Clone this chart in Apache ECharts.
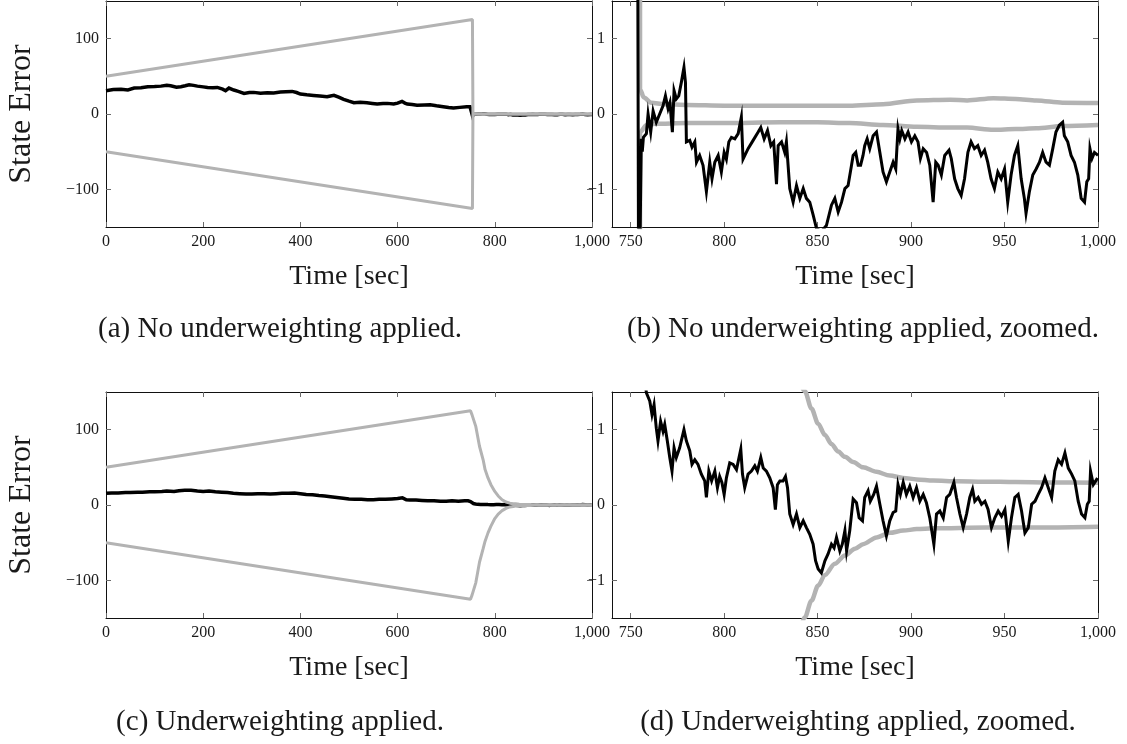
<!DOCTYPE html>
<html>
<head>
<meta charset="utf-8">
<script src="https://cdn.jsdelivr.net/npm/echarts@6/dist/echarts.min.js"></script>
<style>
html,body{margin:0;padding:0;background:#fff;}
#chart{width:1127px;height:744px;}
</style>
</head>
<body>
<div id="chart"></div>
<script>
// ---------- tick labels / ranges ----------
const xWideTicks = [0, 200, 400, 600, 800, 1000];
const xZoomTicks = [750, 800, 850, 900, 950, 1000];
const yWideTicks = [-100, 0, 100];
const yZoomTicks = [-1, 0, 1];
const xWideRange = [0, 1000];
const xZoomRange = [740, 1000];
const yWideRange = [-150, 150];
const yZoomRange = [-1.5, 1.5];

const yTitle = 'State Error';
const xTitle = 'Time [sec]';
const captions = ['(a) No underweighting applied.', '(b) No underweighting applied, zoomed.',
                  '(c) Underweighting applied.', '(d) Underweighting applied, zoomed.'];

// ---------- No underweighting: state error [time, value] ----------
const errNoUW = [[0,31],[3,31.8],[15,32.5],[31,33],[45,32],[58,34.4],[72,35],[86,36.2],[100,36.5],[113,37],[125,38],[133,37.5],[145,35.5],[154,36.2],[163,37.5],[171,38.9],[180,38],[188,37],[200,36],[209,35.3],[220,35],[229,35.3],[240,33],[246,30.9],[253,34.4],[263,31.8],[272,30],[284,27.4],[295,28.5],[304,28.7],[318,27.5],[332,28.3],[345,28],[359,29.1],[370,29.5],[383,30],[392,28.5],[400,26.5],[413,25.5],[427,24.7],[440,24],[455,23],[462,24],[469,24.7],[480,22],[489,19.4],[500,17],[510,15],[523,15.5],[537,15],[548,14],[558,13.2],[570,14],[579,14.1],[592,13.2],[600,14.5],[609,16.8],[615,14.5],[620,13.2],[630,12.5],[640,11.5],[655,12],[667,12.4],[680,11],[694,9.7],[705,8.5],[715,7.9],[728,8.8],[742,9.7],[749,9.7],[753,9.5],[754.3,-3],
[755.7,-0.33],[756.2,-0.5],[756.8,-0.31],[758.4,-0.26],[759.3,0],[760.7,-0.24],[762,0.04],[763.7,-0.11],[765.5,0],[767.3,0.11],[768.6,0.24],[770,0.07],[771,0.15],[772.3,-0.24],[773.2,0.31],[774.4,0.2],[775.7,0.24],[777.1,0.42],[778.5,0.62],[779.3,0.42],[779.8,-0.37],[781.6,-0.35],[782.8,-0.44],[784.3,-0.37],[785.2,-0.64],[786.9,-0.55],[788.7,-0.68],[790.5,-1.03],[792.3,-0.64],[793.5,-0.86],[795,-0.64],[796.8,-0.55],[798.5,-0.77],[800,-0.51],[801.2,-0.6],[802.5,-0.37],[803.9,-0.31],[805.7,-0.33],[807.5,-0.26],[809.2,-0.04],[810.1,-0.6],[812.8,-0.46],[815.5,-0.35],[818.2,-0.24],[819.6,-0.18],[821.4,-0.33],[823.2,-0.22],[825,-0.42],[826.5,-0.37],[828,-0.93],[828.9,-0.42],[830.7,-0.37],[832.4,-0.51],[833.3,-0.37],[835.1,-0.99],[836.9,-1.17],[838.7,-0.95],[840.5,-1.12],[842.3,-0.99],[844,-1.12],[845.8,-1.17],[847.6,-1.34],[849.4,-1.52],[852,-1.56],[854.7,-1.48],[857.4,-1.21],[859.2,-1.12],[861,-1.3],[862.8,-1.17],[864.6,-0.99],[866.3,-0.95],[868,-0.7],[869,-0.55],[870.4,-0.51],[871.7,-0.68],[873,-0.68],[874.3,-0.55],[875.2,-0.42],[876.5,-0.33],[877.9,-0.46],[879.7,-0.29],[881.5,-0.24],[883.3,-0.51],[885,-0.77],[886.8,-0.9],[888.6,-0.77],[890.4,-0.64],[891.8,-0.73],[893,-0.2],[894,-0.33],[895,-0.22],[896.7,-0.33],[898.4,-0.24],[900.2,-0.37],[902,-0.29],[903.7,-0.37],[905,-0.59],[906.5,-0.46],[908.3,-0.51],[910,-0.68],[911.8,-1.17],[913.2,-0.64],[914.5,-0.68],[916.2,-0.81],[918,-0.55],[920.3,-0.48],[921.5,-0.59],[923.3,-0.86],[925,-0.99],[926.8,-1.08],[928.6,-0.86],[930.4,-0.51],[932.1,-0.37],[933.9,-0.46],[935.7,-0.42],[937.5,-0.55],[939.3,-0.48],[941,-0.64],[942.8,-0.86],[944.6,-0.99],[946.4,-0.77],[948.2,-0.86],[950,-0.73],[951.7,-1.17],[953.5,-0.81],[955.3,-0.55],[957.1,-0.42],[958.9,-0.86],[960.6,-1.12],[961.5,-1.32],[963.3,-1.03],[965.1,-0.81],[966.9,-0.73],[968.7,-0.64],[970.4,-0.51],[972.2,-0.64],[974,-0.68],[975.8,-0.46],[977.5,-0.24],[979.3,-0.15],[981.1,-0.11],[982,-0.29],[983.8,-0.37],[985.6,-0.55],[987.4,-0.64],[989.2,-0.81],[991,-1.12],[992.8,-1.17],[994,-0.9],[995,-0.86],[995.7,-0.46],[996.8,-0.59],[998.1,-0.51],[1000,-0.55]];

// ---------- No underweighting: bounds ----------
const upperNoUW = [[0,50],[754,125.4],[755,0.33],[757,0.22],[761,0.15],[768,0.13],[780,0.12],[800,0.11],[850,0.11],[867,0.11],[885,0.13],[903,0.18],[921,0.19],[930,0.18],[944,0.21],[956,0.2],[967,0.18],[981,0.15],[1000,0.145]];
const lowerNoUW = [[0,-50],[754,-125.4],[755,-0.24],[758.4,-0.15],[763,-0.13],[780,-0.12],[800,-0.12],[830,-0.11],[850,-0.11],[867,-0.12],[885,-0.145],[903,-0.17],[921,-0.18],[930,-0.18],[944,-0.21],[956,-0.2],[967,-0.19],[981,-0.16],[1000,-0.145]];

// ---------- Underweighting: state error ----------
const errUW = [[0,15.5],[12,16],[25,16],[40,16.5],[50,16.5],[65,17],[75,17],[90,17.5],[100,17.5],[115,18],[125,18.5],[140,18],[150,19],[162,19.5],[175,19.5],[188,18.5],[200,18],[212,18.5],[225,17.5],[238,17],[250,16.5],[262,15.5],[275,15],[288,14.5],[300,14.5],[312,15],[325,15],[338,14.5],[350,15],[362,15.5],[375,15.5],[388,16],[400,15],[412,14],[425,13.5],[438,12.5],[450,12],[462,11],[475,10],[488,9],[500,8],[512,7.5],[525,7.5],[538,7],[550,7],[562,7.5],[575,7.5],[588,8],[600,8.5],[610,9.5],[618,7],[625,6.5],[638,6.5],[650,6],[662,5.5],[675,5.5],[688,5],[700,5],[712,5.5],[725,5],[738,5.5],[745,5.5],[750,4.5],[753,3],[756,2],
[758.4,1.49],[760.2,1.38],[761.4,1.2],[762.5,1.33],[763.7,1.02],[764.6,0.85],[766,1.11],[767.3,0.98],[768.2,1.07],[769.6,0.85],[770.9,0.63],[772.1,0.45],[773.2,0.76],[774.4,0.63],[776.2,0.76],[778.5,1.0],[779.8,0.85],[781.6,0.72],[782.8,0.54],[784.3,0.6],[786,0.54],[787.8,0.41],[789.6,0.32],[790.5,0.1],[791.8,0.45],[793.3,0.32],[795,0.45],[796.4,0.23],[797.6,0.38],[798.8,0.3],[800,0.14],[801.2,0.36],[803,0.56],[804.8,0.54],[806.6,0.47],[808.9,0.74],[809.8,0.41],[811,0.23],[812.8,0.41],[814.6,0.45],[816.4,0.52],[817.8,0.45],[819.6,0.63],[820.9,0.49],[822.6,0.45],[824.4,0.36],[826.2,0.23],[827.4,-0.06],[828.5,0.27],[829.8,0.32],[831.5,0.32],[832.8,0.38],[833.9,0.23],[835.1,-0.12],[836.9,-0.26],[838.7,-0.12],[840.5,-0.3],[842.3,-0.21],[844,-0.3],[845.8,-0.39],[847.6,-0.52],[848.9,-0.74],[850.3,-0.85],[852,-0.9],[853.9,-0.74],[855.6,-0.65],[857.4,-0.52],[858.8,-0.57],[860.1,-0.43],[861.9,-0.61],[863.2,-0.52],[864.6,-0.34],[865.5,-0.61],[867.2,-0.34],[869,0.08],[870.8,0.03],[872.2,-0.17],[874,-0.21],[875.2,0.1],[877,0.19],[878.2,0.05],[880,0.14],[881.5,0.25],[883.3,0.01],[885,-0.21],[886.8,-0.41],[888.6,-0.21],[890.4,-0.1],[891.8,-0.08],[893,0.27],[894.3,0.14],[895.8,0.3],[897.5,0.14],[899.3,0.25],[901.1,0.1],[902.9,0.23],[904.7,0.05],[906.5,0.14],[908.2,0.03],[910,-0.17],[912.2,-0.52],[913.6,-0.12],[915.4,-0.08],[917.2,-0.17],[919,0.1],[920.7,0.14],[922.9,0.3],[924.3,0.1],[926.1,-0.12],[927.9,-0.3],[929.7,-0.12],[931.4,0.1],[932.9,0.21],[934.1,0.05],[935.9,0.1],[937.7,0.01],[939.5,0.05],[941.2,-0.06],[943,-0.3],[944.8,-0.17],[946.6,-0.08],[948.4,-0.15],[950.2,-0.06],[952,-0.48],[953.7,-0.17],[955.5,0.1],[957.3,0.14],[959.1,-0.08],[960.9,-0.37],[962.7,-0.3],[964.5,0.01],[966.3,0.05],[968,0.14],[969.8,0.23],[971.6,0.36],[973.4,0.23],[975.2,0.1],[976.9,0.45],[978.7,0.6],[980.5,0.54],[982.3,0.69],[984.1,0.49],[985.9,0.41],[987.6,0.32],[989.4,0.05],[991.2,-0.12],[993,-0.17],[994.3,0.01],[995.3,0.05],[996,0.45],[997.5,0.27],[999.3,0.34],[1000,0.33]];

// ---------- Underweighting: bounds ----------
const upperUW = [[0,50],[750,125],[753,120],[761,104],[768.5,78],[776,60],[780,47],[786,36],[792,27],[800,18],[807,12],[815,7],[823,4],[831,2.4],[838,1.8],[843.2,1.51],[846.7,1.28],[850.3,1.08],[853.9,0.93],[857.4,0.81],[861,0.71],[864.6,0.64],[869,0.57],[874.3,0.5],[881.5,0.44],[888.6,0.39],[895.8,0.36],[903,0.34],[911.8,0.325],[925,0.315],[938.6,0.31],[956,0.305],[974.3,0.3],[1000,0.295]];
const lowerUW = [[0,-50],[750,-125],[753,-120],[761,-103],[768.5,-76],[776,-58],[780,-48],[786,-37],[792,-28],[800,-18],[807,-12],[815,-7.5],[823,-4.5],[831,-2.6],[838,-1.9],[843.2,-1.49],[846.7,-1.27],[850.3,-1.07],[853.9,-0.93],[859.2,-0.78],[864.6,-0.67],[870,-0.58],[874.3,-0.52],[881.5,-0.43],[888.6,-0.37],[895.8,-0.34],[903,-0.32],[911.8,-0.31],[940,-0.3],[970,-0.3],[1000,-0.29]];

// ---------- build chart ----------
const FONT = 'Liberation Serif';
const TXT = '#1a1a1a';
const GRAY = '#b3b3b3';

const panels = [
  {left:106, top:1,   xr:xWideRange, yr:yWideRange, xt:xWideTicks, yt:yWideTicks, err:errNoUW, up:upperNoUW, lo:lowerNoUW, wide:true,  yName:yTitle},
  {left:612, top:1,   xr:xZoomRange, yr:yZoomRange, xt:xZoomTicks, yt:yZoomTicks, err:errNoUW, up:upperNoUW, lo:lowerNoUW, wide:false, yName:''},
  {left:106, top:392, xr:xWideRange, yr:yWideRange, xt:xWideTicks, yt:yWideTicks, err:errUW,   up:upperUW,   lo:lowerUW,   wide:true,  yName:yTitle},
  {left:612, top:392, xr:xZoomRange, yr:yZoomRange, xt:xZoomTicks, yt:yZoomTicks, err:errUW,   up:upperUW,   lo:lowerUW,   wide:false, yName:''}
];

function fmt(v){
  const s = Math.abs(v) >= 1000 ? Number(v).toLocaleString('en-US') : String(v);
  return s.replace('-', '\u2212');
}

const grid = [], xAxis = [], yAxis = [], series = [];
panels.forEach((p, k) => {
  grid.push({left:p.left, top:p.top, width:486, height:226, containLabel:false});
  const tick = (vals) => ({show:true, inside:true, length:5, customValues:vals, lineStyle:{color:'#6a6a6a', width:1}});
  const line = {show:true, onZero:false, lineStyle:{color:'#111', width:1}};
  const lab = (vals) => ({show:true, customValues:vals, formatter:fmt, color:TXT, fontFamily:FONT, fontSize:16, margin:7});
  xAxis.push({type:'value', gridIndex:k, position:'bottom', min:p.xr[0], max:p.xr[1],
    axisLine:line, axisTick:tick(p.xt), axisLabel:lab(p.xt), splitLine:{show:false},
    name:xTitle, nameLocation:'middle', nameGap:36,
    nameTextStyle:{fontFamily:FONT, fontSize:28, color:TXT, verticalAlign:'top'}});
  xAxis.push({type:'value', gridIndex:k, position:'top', min:p.xr[0], max:p.xr[1],
    axisLine:line, axisTick:tick(p.xt), axisLabel:{show:false}, splitLine:{show:false}});
  yAxis.push({type:'value', gridIndex:k, position:'left', min:p.yr[0], max:p.yr[1],
    axisLine:line, axisTick:tick(p.yt), axisLabel:lab(p.yt), splitLine:{show:false},
    name:p.yName, nameLocation:'middle', nameGap:68, nameRotate:90,
    nameTextStyle:{fontFamily:FONT, fontSize:32, color:TXT}});
  yAxis.push({type:'value', gridIndex:k, position:'right', min:p.yr[0], max:p.yr[1],
    axisLine:line, axisTick:tick(p.yt), axisLabel:{show:false}, splitLine:{show:false}});

  const gw = p.wide ? 3 : 4.5;
  const gz = p.wide ? 4 : 2;
  const bz = p.wide ? 3 : 4;
  const common = {type:'line', xAxisIndex:2*k, yAxisIndex:2*k, showSymbol:false, symbol:'none',
                  clip:true, animation:false, silent:true};
  const sm = p.wide ? {} : {smooth:0.3, smoothMonotone:'x'};
  series.push(Object.assign({}, common, sm, {data:p.up, z:gz, lineStyle:{color:GRAY, width:gw}}));
  series.push(Object.assign({}, common, sm, {data:p.lo, z:gz, lineStyle:{color:GRAY, width:gw}}));
  series.push(Object.assign({}, common, {data:p.err, z:bz, lineStyle:{color:'#000', width:p.wide ? 3.5 : 3, join:'miter'}}));
});

const capPos = [[280,329],[863,329],[280,722],[858,722]];
const graphic = captions.map((c, i) => ({
  type:'text', x:capPos[i][0], y:capPos[i][1],
  style:{text:c, fontFamily:FONT, fontSize:29, fill:TXT, align:'center', verticalAlign:'middle',
         textAlign:'center', textVerticalAlign:'middle'}
}));

const chart = echarts.init(document.getElementById('chart'), null, {renderer:'canvas'});
chart.setOption({animation:false, backgroundColor:'#fff', grid, xAxis, yAxis, series, graphic});
</script>
</body>
</html>
